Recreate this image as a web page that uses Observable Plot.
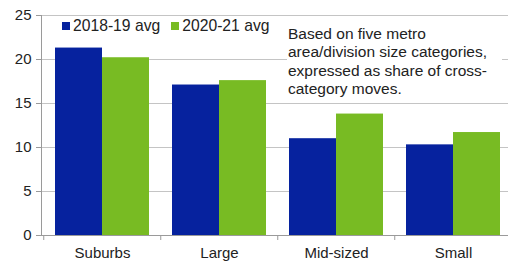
<!DOCTYPE html>
<html><head><meta charset="utf-8">
<script src="https://cdn.jsdelivr.net/npm/d3@7"></script>
<script src="https://cdn.jsdelivr.net/npm/@observablehq/plot@0.6"></script>
<style>
html,body{margin:0;padding:0;background:#fff;}
#wrap{position:relative;width:508px;height:264px;overflow:hidden;font-family:"Liberation Sans",Arial,sans-serif;color:#222;}
#wrap svg{display:block;overflow:hidden;}
#legend{position:absolute;left:62px;top:17px;font-size:15.7px;white-space:nowrap;display:flex;gap:11px;}
#legend span.item{display:flex;align-items:center;}
#legend i{display:inline-block;width:8px;height:8px;margin-right:3px;}
#note{position:absolute;left:287px;top:25px;width:214px;background:#fff;font-size:15.5px;line-height:18.3px;padding-left:1px;}
</style></head>
<body>
<div id="wrap"><div id="legend"></div><div id="note"></div></div>
<script>
const categories = ["Suburbs", "Large", "Mid-sized", "Small"];
const series = ["2018-19 avg", "2020-21 avg"];
const avg2018_19 = [21.3, 17.1, 11.0, 10.3];
const avg2020_21 = [20.2, 17.6, 13.8, 11.7];
const yTicks = [0, 5, 10, 15, 20, 25];
const noteLines = ["Based on five metro", "area/division size categories,", "expressed as share of cross-", "category moves."];
const colors = ["#06229e", "#78bb23"];

const rows = categories.map((c, i) => ({category: c, a: avg2018_19[i], b: avg2020_21[i]}));

const chart = Plot.plot({
  width: 508, height: 264,
  marginLeft: 42, marginRight: -4, marginTop: 15, marginBottom: 29,
  style: {fontFamily: '"Liberation Sans", Arial, sans-serif', fontSize: "15px", color: "#222", background: "#fff"},
  x: {domain: categories, paddingInner: 0.2, paddingOuter: 0.1, label: null},
  y: {domain: [0, 25], label: null},
  marks: [
    Plot.gridY(yTicks, {stroke: "#c4c4c4", strokeOpacity: 1}),
    Plot.barY(rows, {x: "category", y: "a", fill: colors[0], insetRight: 47}),
    Plot.barY(rows, {x: "category", y: "b", fill: colors[1], insetLeft: 47}),
    Plot.ruleY([0], {stroke: "#9a9a9a"}),
    Plot.frame({anchor: "left", stroke: "#9a9a9a", dx: -1}),
    Plot.axisY({ticks: yTicks, tickSize: 5, tickPadding: 5, stroke: "#9a9a9a", fill: "#222", fontSize: 15, dx: -1, label: null}),
    Plot.axisX({tickSize: 0, tickPadding: 12, fill: "#222", fontSize: 15, label: null}),
    Plot.axisX({tickSize: 5, dx: -58.75, stroke: "#9a9a9a", tickFormat: () => "", label: null})
  ]
});
document.getElementById("wrap").prepend(chart);

const legend = document.getElementById("legend");
series.forEach((s, i) => {
  const item = document.createElement("span");
  item.className = "item";
  const sw = document.createElement("i");
  sw.style.background = colors[i];
  item.appendChild(sw);
  item.appendChild(document.createTextNode(s));
  legend.appendChild(item);
});
document.getElementById("note").innerHTML = noteLines.join("<br>");
</script>
</body></html>
